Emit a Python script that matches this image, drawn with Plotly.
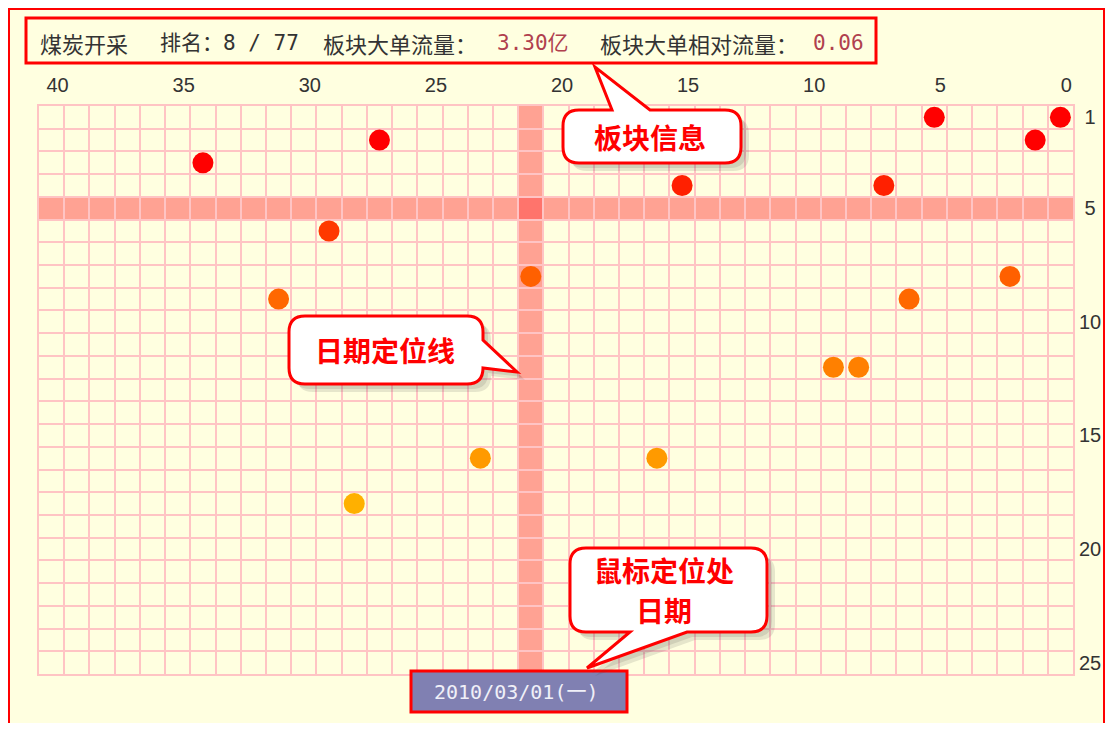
import plotly.graph_objects as go

# 距今天数(横轴) / 板块排名(纵轴)
days_ago = [34, 27, 29, 31, 21, 15, 5, 0, 1, 7, 2, 6, 9, 8, 23, 16, 28]
ranks = [3, 2, 6, 9, 8, 4, 1, 1, 2, 4, 8, 9, 12, 12, 16, 16, 18]

x_ticks = [40, 35, 30, 25, 20, 15, 10, 5, 0]
y_ticks = [1, 5, 10, 15, 20, 25]
y_tick_text = ["\u20081", "\u20085", "10", "15", "20", "25"]

focus_day = 21
focus_rank = 5

sector = "煤炭开采"
rank_text = "排名：8 / 77"
flow_label = "板块大单流量："
flow_value = "3.30亿"
rel_label = "板块大单相对流量："
rel_value = "0.06"
date_text = "2010/03/01(一)"

# the page body keeps its 8px margin, so the figure fills the window inside it
PAGE_W, PAGE_H, BODY = 1113, 731, 8
W, H = PAGE_W - 2 * BODY, PAGE_H - 2 * BODY
# plot area in page pixels
PX0, PX1, PY0, PY1 = 39, 1073, 106, 674
PW, PH = PX1 - PX0, PY1 - PY0

BG = "#ffffe0"
GRID = "#ffc4c4"
RED = "#ff0000"
CJK = "Noto Sans CJK SC"


def px(x):
    return (x - PX0) / PW


def py(y):
    return 1 - (y - PY0) / PH


def pt(x, y):
    return f"{px(x):.5f},{py(y):.5f}"


def bubble(x0, y0, x1, y1, r, side, b1, tip, b2, dx=0, dy=0):
    # rounded box with a pointer, walked clockwise on screen
    x0, x1, y0, y1 = x0 + dx, x1 + dx, y0 + dy, y1 + dy
    shift = dy if side == "right" else dx
    b1, b2 = b1 + shift, b2 + shift
    tx, ty = tip[0] + dx, tip[1] + dy
    p = [f"M{pt(x0 + r, y0)}"]
    if side == "top":
        p += [f"L{pt(b1, y0)}", f"L{pt(tx, ty)}", f"L{pt(b2, y0)}"]
    p += [f"L{pt(x1 - r, y0)}", f"Q{pt(x1, y0)} {pt(x1, y0 + r)}"]
    if side == "right":
        p += [f"L{pt(x1, b1)}", f"L{pt(tx, ty)}", f"L{pt(x1, b2)}"]
    p += [f"L{pt(x1, y1 - r)}", f"Q{pt(x1, y1)} {pt(x1 - r, y1)}"]
    if side == "bottom":
        p += [f"L{pt(b1, y1)}", f"L{pt(tx, ty)}", f"L{pt(b2, y1)}"]
    p += [f"L{pt(x0 + r, y1)}", f"Q{pt(x0, y1)} {pt(x0, y1 - r)}",
          f"L{pt(x0, y0 + r)}", f"Q{pt(x0, y0)} {pt(x0 + r, y0)}", "Z"]
    return " ".join(p)


bubbles = [
    dict(box=(563, 110, 741, 163), side="top", b1=612, tip=(595, 67), b2=650),
    dict(box=(289, 316, 483, 384), side="right", b1=340, tip=(517, 372), b2=368),
    dict(box=(570, 548, 767, 632), side="bottom", b1=687, tip=(587, 668), b2=630),
]

rank_colors = [[0.0, "#ff0000"], [0.12, "#ff0000"], [0.18, "#ff2200"], [0.29, "#ff3800"],
               [0.41, "#ff6000"], [0.65, "#ff8000"], [0.88, "#ff9a00"], [1.0, "#ffb000"]]

fig = go.Figure()
fig.add_trace(go.Scatter(
    x=days_ago, y=ranks, mode="markers",
    marker=dict(size=21, color=ranks, colorscale=rank_colors, cmin=1, cmax=18,
                line=dict(width=0)),
    hoverinfo="x+y",
))

shapes = [
    # page frame
    dict(type="rect", xref="paper", yref="paper", x0=px(9), y0=py(9), x1=px(1104), y1=py(780),
         fillcolor=BG, line=dict(color=RED, width=2), layer="below"),
    # date cursor and rank bands
    dict(type="rect", xref="x", yref="paper", x0=focus_day - 0.5, x1=focus_day + 0.5, y0=0, y1=1,
         fillcolor="rgba(255,70,70,0.5)", line=dict(width=0), layer="below"),
    dict(type="rect", xref="paper", yref="y", x0=0, x1=1, y0=focus_rank - 0.5, y1=focus_rank + 0.5,
         fillcolor="rgba(255,70,70,0.5)", line=dict(width=0), layer="below"),
    # info box
    dict(type="rect", xref="paper", yref="paper", x0=px(26), y0=py(18), x1=px(876), y1=py(63),
         line=dict(color=RED, width=3)),
    # date box
    dict(type="rect", xref="paper", yref="paper", x0=px(411), y0=py(671), x1=px(627), y1=py(712),
         fillcolor="#8080b2", line=dict(color=RED, width=3)),
]

for b in bubbles:
    x0, y0, x1, y1 = b["box"]
    for off, a in [(5, 0.13), (8, 0.13)]:
        shapes.append(dict(type="path", xref="paper", yref="paper",
                           path=bubble(x0, y0, x1, y1, 16, b["side"], b["b1"], b["tip"], b["b2"], off, off),
                           fillcolor=f"rgba(60,60,60,{a})", line=dict(width=0)))
    shapes.append(dict(type="path", xref="paper", yref="paper",
                       path=bubble(x0, y0, x1, y1, 16, b["side"], b["b1"], b["tip"], b["b2"]),
                       fillcolor="white", line=dict(color=RED, width=3)))

annotations = []


def label(text, x, y, color="#333333", size=21, family=CJK, anchor="left", bold=False):
    if bold:
        text = f"<b>{text}</b>"
    annotations.append(dict(text=text, x=px(x), y=py(y), xref="paper", yref="paper",
                            xanchor=anchor, yanchor="middle", showarrow=False,
                            font=dict(size=size, color=color, family=family)))


mono = "DejaVu Sans Mono, " + CJK
label(sector, 38, 43, size=22)
label(rank_text, 158, 43, family=mono)
label(flow_label, 321, 43, size=22)
label(flow_value, 495, 43, color="#b0404e", family=mono)
label(rel_label, 598, 43, size=22)
label(rel_value, 811, 43, color="#b0404e", family=mono)
label(date_text, 516, 692, color="#f0f0f8", size=20, family=mono, anchor="center")

label("板块信息", 650, 137, color=RED, size=28, anchor="center", bold=True)
label("日期定位线", 385, 350, color=RED, size=28, anchor="center", bold=True)
label("鼠标定位处", 664, 570, color=RED, size=28, anchor="center", bold=True)
label("日期", 664, 610, color=RED, size=28, anchor="center", bold=True)

tick_font = dict(size=20, color="#333333", family="Liberation Sans, Arial")
fig.update_layout(
    width=W, height=H,
    margin=dict(l=PX0 - BODY, r=W + BODY - PX1, t=PY0 - BODY, b=H + BODY - PY1, pad=0),
    paper_bgcolor="white", plot_bgcolor=BG,
    showlegend=False,
    shapes=shapes, annotations=annotations,
    xaxis=dict(range=[40.5, -0.5], side="top", tickmode="array", tickvals=x_ticks,
               tickfont=tick_font, ticks="", showgrid=False, zeroline=False,
               showline=True, mirror=True, linecolor=GRID, linewidth=2, automargin=False,
               ticklabelstandoff=4, ticklabelshift=-6,
               minor=dict(tickmode="linear", tick0=0.5, dtick=1, showgrid=True,
                          gridcolor=GRID, gridwidth=2, ticks="")),
    yaxis=dict(range=[25.5, 0.5], side="right", tickmode="array", tickvals=y_ticks,
               ticktext=y_tick_text, tickfont=tick_font, ticks="", showgrid=False,
               zeroline=False, showline=True, mirror=True, linecolor=GRID, linewidth=2,
               automargin=False, ticklabelstandoff=0,
               minor=dict(tickmode="linear", tick0=0.5, dtick=1, showgrid=True,
                          gridcolor=GRID, gridwidth=2, ticks="")),
)

fig.write_html("out.html")
